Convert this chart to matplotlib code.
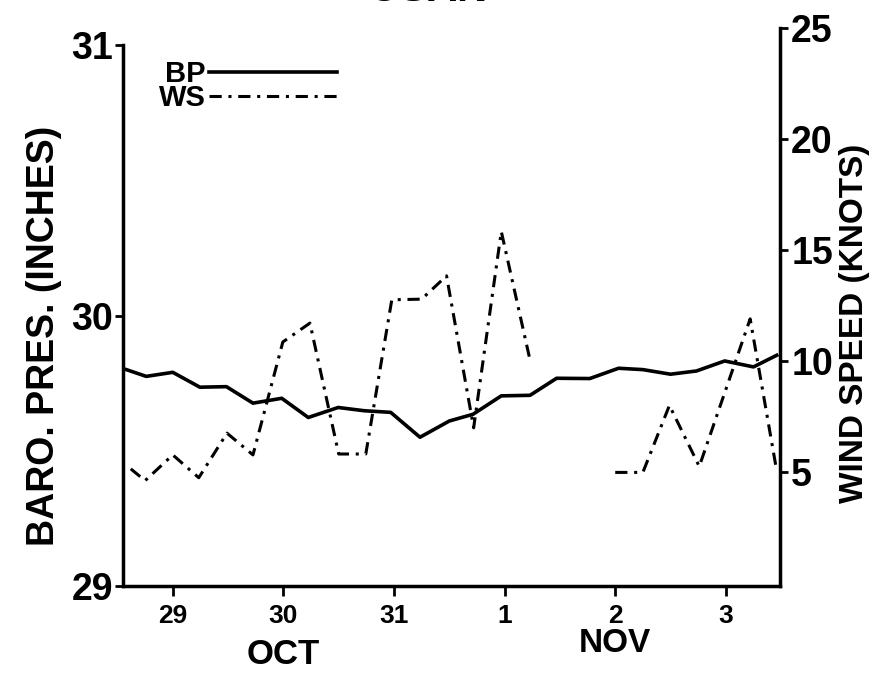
import numpy as np
import matplotlib as mpl
import matplotlib.pyplot as plt
from matplotlib.lines import Line2D
from matplotlib.transforms import blended_transform_factory

mpl.rcParams['font.family'] = ['Liberation Sans', 'DejaVu Sans']
mpl.rcParams['font.weight'] = 'bold'

#--------------------------------------------------
# data (x = days after 29 Oct 00Z)
#--------------------------------------------------
bp_day = [-0.42, -0.24, 0.0, 0.245, 0.485, 0.725, 0.985, 1.225, 1.495, 1.73, 1.97,
          2.235, 2.5, 2.715, 2.97, 3.23, 3.47, 3.77, 4.03, 4.25, 4.5, 4.735, 4.99,
          5.25, 5.46]
bp_inches = [29.80, 29.775, 29.79, 29.735, 29.737, 29.676, 29.694, 29.623, 29.66,
             29.648, 29.642, 29.55, 29.61, 29.635, 29.703, 29.705, 29.768, 29.767,
             29.805, 29.80, 29.783, 29.795, 29.832, 29.81, 29.853]

# wind speed, gap (no obs) between 1 Nov pm and 2 Nov
ws_day = [-0.38, -0.25, 0.0, 0.235, 0.49, 0.725, 0.995, 1.24, 1.5, 1.745, 1.98,
          2.25, 2.475, 2.72, 2.97, 3.23, 3.6, 4.0, 4.25, 4.49, 4.76, 5.22, 5.46]
ws_knots = [5.13, 4.6, 5.76, 4.73, 6.74, 5.76, 10.85, 11.7, 5.8, 5.8, 12.75,
            12.78, 13.83, 6.98, 15.83, 10.03, np.nan, 4.97, 4.97, 7.99, 5.24,
            11.89, 5.04]

day_ticks = [0, 1, 2, 3, 4, 5]
day_labels = ['29', '30', '31', '1', '2', '3']

#--------------------------------------------------
# plot
#--------------------------------------------------
fig = plt.figure(figsize=(8.73, 6.77), dpi=100)
ax = fig.add_axes([0.1409, 0.1344, 0.7526, 0.7991])
ax2 = fig.add_axes([0.1409, 0.1344, 0.7526, 0.8242], sharex=ax)
ax2.patch.set_visible(False)

ws_dash = (4, 2.2, 1, 2.2)
ax.plot(bp_day, bp_inches, c='k', lw=2.6, solid_joinstyle='round')
ax2.plot(ws_day, ws_knots, c='k', lw=2.2, dashes=ws_dash)

ax.set_xlim(-0.45, 5.49)
ax.set_ylim(29, 31)
ax2.set_ylim(-0.15, 25)

for s in ['top', 'right']:
    ax.spines[s].set_visible(False)
for s in ['top', 'left', 'bottom']:
    ax2.spines[s].set_visible(False)
for s in ['left', 'bottom']:
    ax.spines[s].set_linewidth(2.5)
ax2.spines['right'].set_linewidth(2.5)

ax.set_yticks([29, 30, 31])
ax.set_yticklabels(['29', '30', '31'])
ax.tick_params(axis='y', direction='out', length=6, width=2, labelsize=27, pad=1)
ax.set_xticks(day_ticks)
ax.set_xticklabels(day_labels)
ax.tick_params(axis='x', direction='out', length=7, width=2, labelsize=19, pad=6)

ax2.yaxis.tick_right()
ax2.yaxis.set_label_position('right')
ax2.set_yticks([5, 10, 15, 20, 25])
ax2.tick_params(axis='y', direction='out', length=6, width=2, labelsize=27, pad=2)
ax2.tick_params(axis='x', bottom=False, labelbottom=False)

ax.set_ylabel('BARO. PRES. (INCHES)', fontsize=27, fontweight='bold')
ax.yaxis.set_label_coords(-0.093, 0.463)
ax2.set_ylabel('WIND SPEED (KNOTS)', fontsize=24, fontweight='bold', rotation=90)
ax2.yaxis.set_label_coords(1.09, 0.47)

trans = blended_transform_factory(ax.transData, ax.transAxes)
ax.text(1, -0.127, 'OCT', transform=trans, ha='center', va='center', fontsize=25)
ax.text(4, -0.107, 'NOV', transform=trans, ha='center', va='center', fontsize=24)

fig.text(0.489, 0.998, 'OSAN', ha='center', va='baseline', fontsize=30)

handles = [Line2D([], [], c='k', lw=2.6),
           Line2D([], [], c='k', lw=2.2, dashes=ws_dash)]
ax2.legend(handles, ['BP', 'WS'], loc='upper left', bbox_to_anchor=(0.152, 0.95),
           bbox_transform=fig.transFigure, frameon=False, markerfirst=False,
           handlelength=4.4, handletextpad=0.1, labelspacing=-0.15,
           prop={'size': 21, 'weight': 'bold'})

plt.savefig('out.png', dpi=100)
